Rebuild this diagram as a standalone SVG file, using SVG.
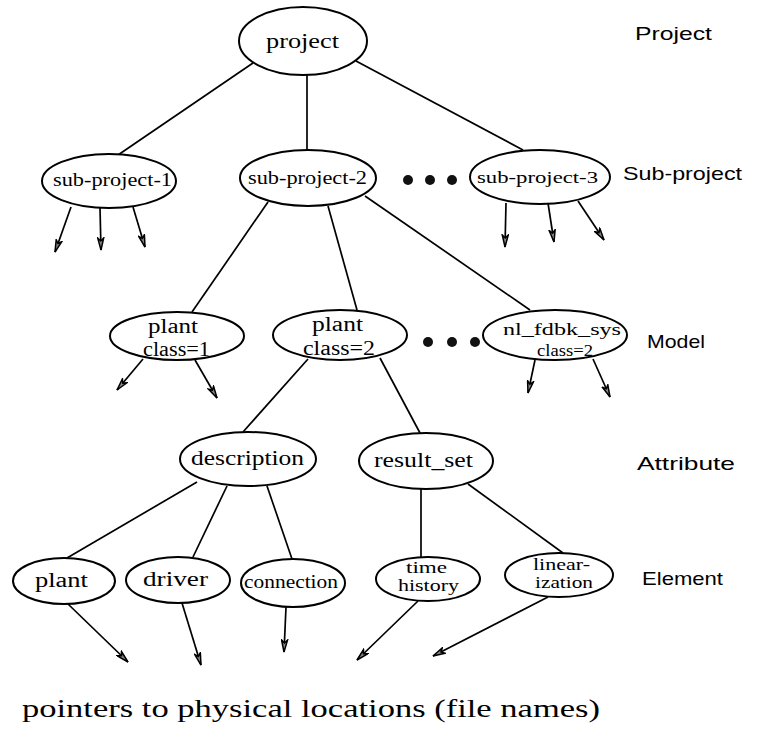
<svg xmlns="http://www.w3.org/2000/svg" width="762" height="742" viewBox="0 0 762 742">
<defs>
<marker id="ah" viewBox="0 0 14 8" refX="13" refY="4" markerWidth="14" markerHeight="8" markerUnits="userSpaceOnUse" orient="auto">
<path d="M1,1 L13,4 L1,7 L4,4 z" fill="#888" stroke="#000" stroke-width="1.5" stroke-linejoin="miter"/>
</marker>
</defs>
<style>
.n ellipse{fill:#fff;stroke:#000;stroke-width:2}
.n text{font-family:"Liberation Serif","DejaVu Serif",serif;font-size:20px;fill:#000}
.lv{font-family:"Liberation Sans",Arial,sans-serif;font-size:19px;fill:#000}
.c line{stroke:#000;stroke-width:1.7}
.c line.a{marker-end:url(#ah)}
.dot{fill:#111}
.bt{font-family:"Liberation Serif","DejaVu Serif",serif;font-size:26px;fill:#000}
</style>
<rect width="762" height="742" fill="#fff"/>
<g id="connectors" class="c">
<line x1="253" y1="63" x2="118" y2="155"/>
<line x1="307" y1="75" x2="307" y2="150"/>
<line x1="356" y1="61" x2="523" y2="150"/>
<line class="a" x1="71" y1="207" x2="55" y2="252"/>
<line class="a" x1="100" y1="208" x2="101" y2="250"/>
<line class="a" x1="133" y1="207" x2="145" y2="247"/>
<line class="a" x1="506" y1="203" x2="505" y2="247"/>
<line class="a" x1="548" y1="203" x2="554" y2="242"/>
<line class="a" x1="578" y1="201" x2="604" y2="240"/>
<line x1="268" y1="202" x2="192" y2="312"/>
<line x1="328" y1="206" x2="357" y2="310"/>
<line x1="365" y1="196" x2="530" y2="310"/>
<line class="a" x1="143" y1="359" x2="117" y2="390"/>
<line class="a" x1="195" y1="360" x2="217" y2="398"/>
<line class="a" x1="535" y1="360" x2="528" y2="393"/>
<line class="a" x1="593" y1="359" x2="610" y2="397"/>
<line x1="308" y1="359" x2="243" y2="432"/>
<line x1="380" y1="358" x2="420" y2="433"/>
<line x1="197" y1="482" x2="67" y2="558"/>
<line x1="227" y1="486" x2="193" y2="557"/>
<line x1="267" y1="486" x2="292" y2="559"/>
<line x1="421" y1="489" x2="421" y2="557"/>
<line x1="468" y1="484" x2="563" y2="553"/>
<line class="a" x1="68" y1="604" x2="128" y2="662"/>
<line class="a" x1="182" y1="603" x2="201" y2="665"/>
<line class="a" x1="286" y1="607" x2="284" y2="652"/>
<line class="a" x1="418" y1="601" x2="357" y2="660"/>
<line class="a" x1="548" y1="597" x2="433" y2="656"/>
</g>
<g id="project" class="n"><ellipse cx="303" cy="41" rx="64" ry="34"/><text x="266" y="48" textLength="73" lengthAdjust="spacingAndGlyphs" style="font-size:22px">project</text></g>
<g id="sub-project-1" class="n"><ellipse cx="109" cy="181" rx="67" ry="27"/><text x="53" y="186" textLength="119" lengthAdjust="spacingAndGlyphs" style="font-size:18px">sub-project-1</text></g>
<g id="sub-project-2" class="n"><ellipse cx="308" cy="178" rx="68" ry="28"/><text x="248" y="184" textLength="119" lengthAdjust="spacingAndGlyphs" style="font-size:18px">sub-project-2</text></g>
<g id="sub-project-3" class="n"><ellipse cx="540" cy="177" rx="70" ry="27"/><text x="477" y="183" textLength="121" lengthAdjust="spacingAndGlyphs" style="font-size:17px">sub-project-3</text></g>
<g id="dots1"><circle class="dot" cx="408" cy="180" r="5"/><circle class="dot" cx="430" cy="180" r="5"/><circle class="dot" cx="452" cy="180" r="5"/></g>
<g id="plant-class-1" class="n"><ellipse cx="177" cy="336" rx="67" ry="24"/><text x="148" y="333" textLength="50" lengthAdjust="spacingAndGlyphs">plant</text><text x="143" y="356" textLength="67" lengthAdjust="spacingAndGlyphs">class=1</text></g>
<g id="plant-class-2" class="n"><ellipse cx="340" cy="335" rx="67" ry="25"/><text x="312" y="331" textLength="51" lengthAdjust="spacingAndGlyphs">plant</text><text x="303" y="355" textLength="72" lengthAdjust="spacingAndGlyphs">class=2</text></g>
<g id="dots2"><circle class="dot" cx="428" cy="342" r="5"/><circle class="dot" cx="452" cy="342" r="5"/><circle class="dot" cx="475" cy="342" r="5"/></g>
<g id="nl_fdbk_sys" class="n"><ellipse cx="555" cy="335" rx="72" ry="25"/><text x="503" y="335" textLength="118" lengthAdjust="spacingAndGlyphs" style="font-size:17px">nl_fdbk_sys</text><text x="537" y="356" textLength="56" lengthAdjust="spacingAndGlyphs" style="font-size:17px">class=2</text></g>
<g id="description" class="n"><ellipse cx="248" cy="459" rx="68" ry="27"/><text x="191" y="465" textLength="113" lengthAdjust="spacingAndGlyphs">description</text></g>
<g id="result_set" class="n"><ellipse cx="426" cy="461" rx="67" ry="28"/><text x="374" y="467" textLength="99" lengthAdjust="spacingAndGlyphs">result_set</text></g>
<g id="plant" class="n"><ellipse cx="64" cy="581" rx="51" ry="23"/><text x="35" y="587" textLength="53" lengthAdjust="spacingAndGlyphs">plant</text></g>
<g id="driver" class="n"><ellipse cx="178" cy="580" rx="52" ry="23"/><text x="143" y="586" textLength="65" lengthAdjust="spacingAndGlyphs">driver</text></g>
<g id="connection" class="n"><ellipse cx="293" cy="583" rx="52" ry="24"/><text x="244" y="588" textLength="94" lengthAdjust="spacingAndGlyphs" style="font-size:18px">connection</text></g>
<g id="time-history" class="n"><ellipse cx="428" cy="579" rx="52" ry="22"/><text x="406" y="573" textLength="41" lengthAdjust="spacingAndGlyphs" style="font-size:16px">time</text><text x="398" y="591" textLength="61" lengthAdjust="spacingAndGlyphs" style="font-size:16px">history</text></g>
<g id="linearization" class="n"><ellipse cx="559" cy="575" rx="54" ry="22"/><text x="533" y="570" textLength="57" lengthAdjust="spacingAndGlyphs" style="font-size:16px">linear-</text><text x="535" y="588" textLength="58" lengthAdjust="spacingAndGlyphs" style="font-size:16px">ization</text></g>
<g id="levels">
<text class="lv" x="635" y="40" textLength="77" lengthAdjust="spacingAndGlyphs">Project</text>
<text class="lv" x="623" y="180" textLength="119" lengthAdjust="spacingAndGlyphs">Sub-project</text>
<text class="lv" x="647" y="348" textLength="58" lengthAdjust="spacingAndGlyphs">Model</text>
<text class="lv" x="637" y="470" textLength="98" lengthAdjust="spacingAndGlyphs">Attribute</text>
<text class="lv" x="642" y="585" textLength="81" lengthAdjust="spacingAndGlyphs">Element</text>
</g>
<text id="footer" class="bt" x="22" y="717" textLength="578" lengthAdjust="spacingAndGlyphs">pointers to physical locations (file names)</text>
</svg>
